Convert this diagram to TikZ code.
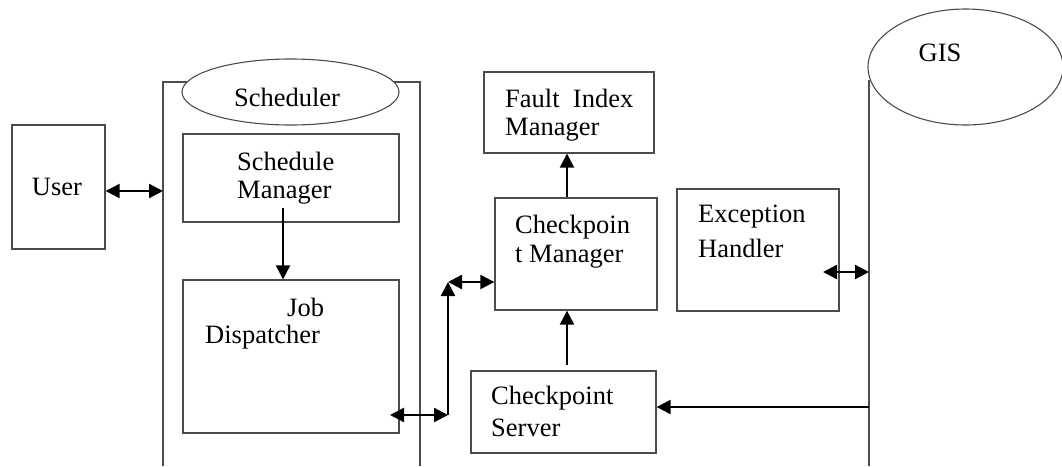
\documentclass[tikz,border=0pt]{standalone}
\usepackage{fontspec}
\setmainfont{Liberation Serif}
\usetikzlibrary{shapes.geometric,arrows.meta}
\begin{document}
\begin{tikzpicture}[x=1pt,y=-1pt,
  box/.style={draw=black!70,line width=1.3pt,fill=white,rectangle,inner sep=0pt},
  oval/.style={draw=black!70,line width=1.1pt,fill=white,ellipse,inner sep=0pt},
  txt/.style={inner sep=0pt,anchor=west,font=\fontsize{26.5}{31}\selectfont},
  tip/.tip={Triangle[length=14pt,width=14pt]},
  arr/.style={line width=2.3pt,-tip},
  dbl/.style={line width=2.3pt,tip-tip},
  wall/.style={draw=black!70,line width=1.4pt}]
\useasboundingbox (0,0) rectangle (1062,466);

% Scheduler container and its title oval
\draw[wall] (163,466) -- (163,82) -- (420,82) -- (420,466);
\node[oval,minimum width=217pt,minimum height=66pt] (sched) at (290.5,92) {};
\node[txt,anchor=center] (schedt) at (287,97) {Scheduler};

% GIS store
\begin{scope}
\clip (0,0) rectangle (1062,466);
\node[oval,minimum width=195pt,minimum height=116pt] (gis) at (965.5,67) {};
\end{scope}
\draw[wall] (869,80) coordinate (gistop) -- (869,466) coordinate (gisbot);
\node[txt,anchor=center] (gist) at (940,53) {GIS};

% Boxes
\node[box,minimum width=93pt,minimum height=124pt] (user) at (58.5,187) {};
\node[txt,anchor=center] (usert) at (57,187) {User};

\node[box,minimum width=216pt,minimum height=88pt] (sm) at (291,178) {};
\node[txt] (smt1) at (237,161) {Schedule};
\node[txt] (smt2) at (237,193) {Manager};

\node[box,minimum width=216pt,minimum height=153pt] (jd) at (291,356.5) {};
\node[txt] (jdt1) at (287,307) {Job};
\node[txt] (jdt2) at (205,337) {Dispatcher};

\node[box,minimum width=170pt,minimum height=81pt] (fim) at (569,112.5) {};
\node[txt] (fimt1) at (505,98) {Fault\ \ Index};
\node[txt] (fimt2) at (505,130) {Manager};

\node[box,minimum width=162pt,minimum height=112pt] (cm) at (576,254) {};
\node[txt] (cmt1) at (515,227) {Checkpoin};
\node[txt] (cmt2) at (515,257) {t Manager};

\node[box,minimum width=185pt,minimum height=82pt] (cs) at (563.5,412) {};
\node[txt] (cst1) at (491,398) {Checkpoint};
\node[txt] (cst2) at (491,428) {Server};

\node[box,minimum width=162pt,minimum height=122pt] (eh) at (758,250) {};
\node[txt] (eht1) at (698,217) {Exception};
\node[txt] (eht2) at (698,248) {Handler};

% Link points
\coordinate (smout) at (283,208);
\coordinate (jdout) at (390,415);
\coordinate (bend) at (448,415);
\coordinate (split) at (448,282);
\coordinate (ehout) at (823,272);
\coordinate (csin) at (567,365);

% Connectors
\draw[dbl] (user.east |- 0,191) -- (163,191);
\draw[arr] (smout) -- (jd.north -| smout);
\draw[arr] (cm.north -| 567,0) -- (fim.south -| 567,0);
\draw[arr] (csin) -- (cm.south -| csin);
\draw[dbl] (jdout) -- (bend);
\draw[arr] (bend) -- (split);
\draw[dbl] (split) -- (cm.west |- split);
\draw[dbl] (ehout) -- (ehout -| gistop);
\draw[arr] (gistop |- 0,407) -- (cs.east |- 0,407);
\end{tikzpicture}
\end{document}
